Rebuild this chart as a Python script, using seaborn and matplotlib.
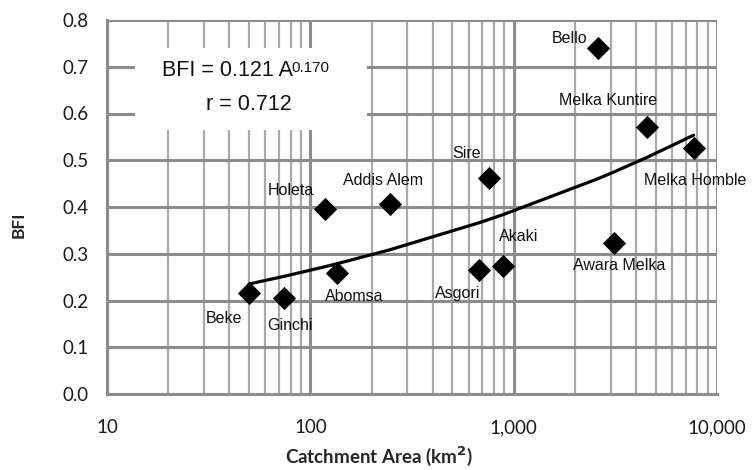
import numpy as np
import pandas as pd
import seaborn as sns
import matplotlib.pyplot as plt
from matplotlib.ticker import FixedLocator, FuncFormatter, LogLocator, NullFormatter

# station data
stations = ["Beke", "Ginchi", "Abomsa", "Holeta", "Addis Alem", "Sire",
            "Asgori", "Akaki", "Awara Melka", "Bello", "Melka Kuntire", "Melka Homble"]
area = [50, 74, 136, 118, 246, 753, 673, 884, 3100, 2590, 4550, 7670]
bfi = [0.216, 0.205, 0.259, 0.396, 0.406, 0.462, 0.265, 0.274, 0.323, 0.740, 0.571, 0.526]

# power-law fit shown on the chart
coef_a = 0.121
coef_b = 0.170
r_value = 0.712

y_ticks = [0.0, 0.1, 0.2, 0.3, 0.4, 0.5, 0.6, 0.7, 0.8]
x_ticks = [10, 100, 1000, 10000]

# label offsets in pixels (dx right, dy up) from each marker
label_offsets = {
    "Beke": (-25, -25), "Ginchi": (6, -27), "Abomsa": (17, -24),
    "Holeta": (-34, 18), "Addis Alem": (-7, 24), "Sire": (-22, 25),
    "Asgori": (-21, -23), "Akaki": (16, 29), "Awara Melka": (6, -23),
    "Bello": (-28, 10), "Melka Kuntire": (-39, 27), "Melka Homble": (2, -32),
}

df = pd.DataFrame({"station": stations, "area": area, "bfi": bfi})
fit = df.sort_values("area").copy()
fit["trend"] = coef_a * fit["area"] ** coef_b

sns.set_style("white")
plt.rcParams["font.family"] = ["Lato", "DejaVu Sans"]

W, H = 753, 470
fig = plt.figure(figsize=(W / 100, H / 100), dpi=100)
ax = fig.add_axes([107 / W, 1 - 394 / H, 610 / W, 374 / H])

def ax_frac(px, py):
    # pixel position in the figure -> axes fraction
    return (px - 107) / 610, (394 - py) / 374

grid_minor = "#a9a9a9"
grid_major = "#8c8c8c"

ax.set_xscale("log")
ax.set_xlim(10, 10000)
ax.set_ylim(0, 0.8)

# gridlines
for yv in y_ticks:
    ax.axhline(yv, color=grid_major, lw=2.2, zorder=0.5)
for dec in [10, 100, 1000]:
    for m in range(2, 10):
        ax.axvline(dec * m, color=grid_minor, lw=1.6, zorder=0.4)
for xv in x_ticks:
    ax.axvline(xv, color=grid_major, lw=2.2, zorder=0.6)

ax.xaxis.set_major_locator(FixedLocator(x_ticks))
ax.xaxis.set_minor_locator(LogLocator(base=10, subs=[]))
ax.xaxis.set_minor_formatter(NullFormatter())
ax.xaxis.set_major_formatter(FuncFormatter(lambda v, p: f"{int(v):,}"))
ax.yaxis.set_major_locator(FixedLocator(y_ticks))
ax.yaxis.set_major_formatter(FuncFormatter(lambda v, p: f"{v:.1f}"))
ax.tick_params(axis="both", which="major", length=7, width=2.2, color=grid_major,
               labelsize=13.5, labelcolor="#1a1a1a", pad=6)
ax.tick_params(axis="x", pad=11)
for s in ["top", "right"]:
    ax.spines[s].set_visible(False)
for s in ["left", "bottom"]:
    ax.spines[s].set_color(grid_major)
    ax.spines[s].set_linewidth(2.2)

sns.lineplot(data=fit, x="area", y="trend", color="black", lw=2.3, ax=ax,
             sort=False, zorder=3)
sns.scatterplot(data=df, x="area", y="bfi", marker="D", s=140, color="black",
                edgecolor="black", linewidth=0, ax=ax, zorder=4)

narrow = ["Liberation Sans Narrow", "Liberation Sans", "DejaVu Sans"]
for name, xv, yv in zip(stations, area, bfi):
    dx, dy = label_offsets[name]
    ax.annotate(name, (xv, yv), xytext=(dx * 0.72, dy * 0.72),
                textcoords="offset points", ha="center", va="center",
                fontsize=11.5, family=narrow, color="#111111", zorder=5)

# equation box
bx0, by0 = ax_frac(135, 130)
bx1, by1 = ax_frac(367, 48)
ax.add_patch(plt.Rectangle((bx0, by0), bx1 - bx0, by1 - by0,
                           transform=ax.transAxes, facecolor="white",
                           edgecolor="none", zorder=2))
eq = ax.text(*ax_frac(162, 71), f"BFI = {coef_a:.3f} A", transform=ax.transAxes,
             ha="left", va="center", fontsize=15.5, family=narrow,
             color="#111111", zorder=5)
ax.annotate(f"{coef_b:.3f}", xy=(1, 0.98), xycoords=eq, xytext=(-1, 0),
            textcoords="offset points", ha="left", va="top", fontsize=11,
            family=narrow, color="#111111", zorder=5)
ax.text(*ax_frac(249, 105), f"r = {r_value:.3f}", transform=ax.transAxes,
        ha="center", va="center", fontsize=15.5, family=narrow,
        color="#111111", zorder=5)

ax.set_xlabel("Catchment Area (km$^{\\mathbf{2}}$)", fontsize=13.5, fontweight="bold")
ax.xaxis.set_label_coords(*ax_frac(379, 456))
ax.xaxis.label.set_va("center")
ax.set_ylabel("BFI", fontsize=12.5, fontweight="bold")
ax.yaxis.set_label_coords(*ax_frac(19, 225))
ax.yaxis.label.set_va("center")

fig.savefig("out.png", dpi=100)
